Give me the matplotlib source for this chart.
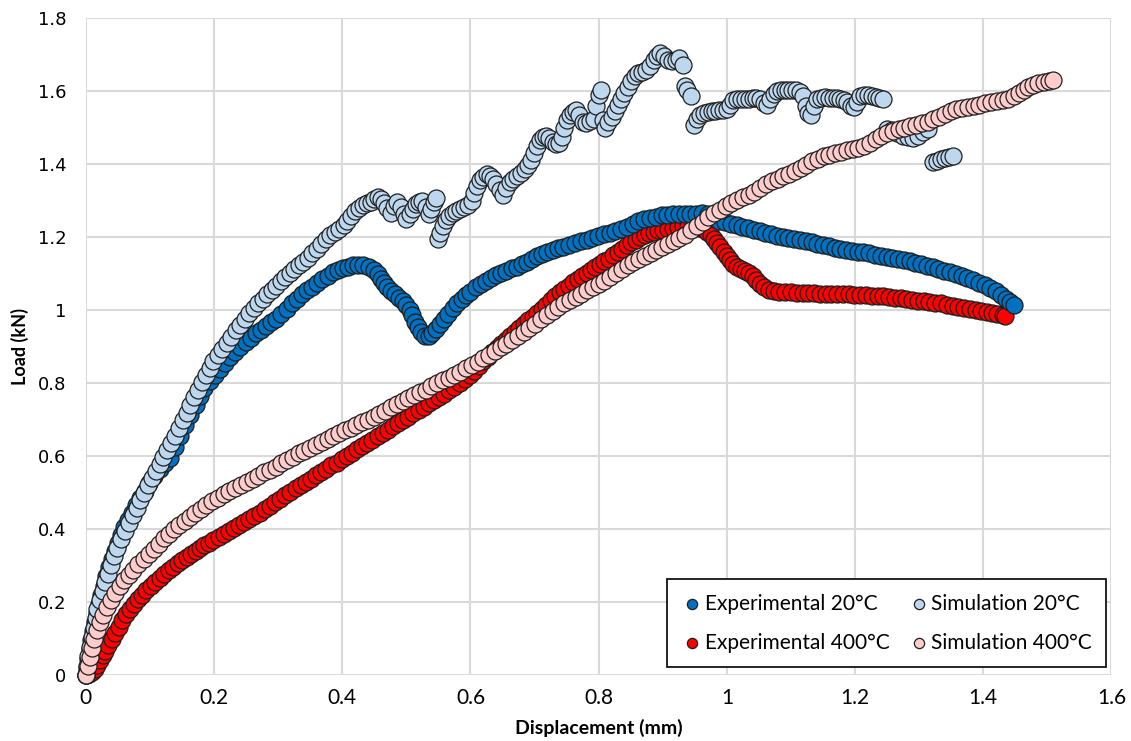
import matplotlib
matplotlib.use("Agg")
import matplotlib.pyplot as plt
from matplotlib import font_manager

# pick a Calibri-like narrow face if present
names = {f.name for f in font_manager.fontManager.ttflist}
narrow = 'Liberation Sans Narrow' if 'Liberation Sans Narrow' in names else 'Lato'

# --- axis ticks ---
x_ticks = [0, 0.2, 0.4, 0.6, 0.8, 1.0, 1.2, 1.4, 1.6]
x_labels = ['0', '0.2', '0.4', '0.6', '0.8', '1', '1.2', '1.4', '1.6']
y_ticks = [0, 0.2, 0.4, 0.6, 0.8, 1.0, 1.2, 1.4, 1.6, 1.8]
y_labels = ['0', '0.2', '0.4', '0.6', '0.8', '1', '1.2', '1.4', '1.6', '1.8']

# --- data (displacement mm, load kN) ---
exp20 = [
    (0.000, 0.000), (0.002, 0.020), (0.004, 0.045), (0.006, 0.070), (0.008, 0.095), (0.011, 0.120),
    (0.014, 0.145), (0.017, 0.170), (0.020, 0.195), (0.024, 0.220), (0.028, 0.245), (0.032, 0.270),
    (0.036, 0.295), (0.040, 0.318), (0.045, 0.340), (0.050, 0.362), (0.055, 0.384), (0.060, 0.405),
    (0.066, 0.425), (0.072, 0.445), (0.078, 0.465), (0.085, 0.485), (0.092, 0.505), (0.099, 0.525),
    (0.107, 0.545), (0.115, 0.565), (0.123, 0.580), (0.131, 0.595), (0.139, 0.625), (0.147, 0.655),
    (0.155, 0.685), (0.163, 0.712), (0.171, 0.740), (0.178, 0.765), (0.185, 0.787), (0.193, 0.805),
    (0.201, 0.822), (0.209, 0.838), (0.217, 0.854), (0.225, 0.870), (0.233, 0.884), (0.241, 0.899),
    (0.249, 0.912), (0.257, 0.924), (0.265, 0.936), (0.273, 0.946), (0.281, 0.956), (0.289, 0.966),
    (0.297, 0.976), (0.305, 0.990), (0.313, 1.004), (0.321, 1.018), (0.329, 1.031), (0.337, 1.043),
    (0.345, 1.054), (0.353, 1.064), (0.361, 1.074), (0.369, 1.084), (0.377, 1.094), (0.385, 1.103),
    (0.393, 1.110), (0.401, 1.115), (0.409, 1.119), (0.417, 1.122), (0.425, 1.123), (0.433, 1.122),
    (0.441, 1.118), (0.449, 1.110), (0.455, 1.098), (0.460, 1.085), (0.465, 1.074), (0.470, 1.063),
    (0.476, 1.052), (0.482, 1.044), (0.488, 1.034), (0.494, 1.024), (0.500, 1.014), (0.505, 1.000),
    (0.509, 0.985), (0.513, 0.968), (0.518, 0.953), (0.523, 0.940), (0.529, 0.928), (0.535, 0.930),
    (0.540, 0.938), (0.546, 0.948), (0.552, 0.962), (0.558, 0.976), (0.565, 0.990), (0.572, 1.005),
    (0.579, 1.020), (0.586, 1.030), (0.593, 1.040), (0.600, 1.050), (0.608, 1.062), (0.616, 1.072),
    (0.624, 1.080), (0.632, 1.088), (0.640, 1.095), (0.648, 1.102), (0.656, 1.108), (0.664, 1.114),
    (0.672, 1.119), (0.680, 1.125), (0.688, 1.132), (0.696, 1.140), (0.704, 1.147), (0.712, 1.154),
    (0.720, 1.160), (0.728, 1.165), (0.736, 1.170), (0.745, 1.173), (0.754, 1.178), (0.763, 1.183),
    (0.772, 1.188), (0.781, 1.193), (0.790, 1.198), (0.799, 1.203), (0.808, 1.208), (0.817, 1.212),
    (0.826, 1.217), (0.835, 1.222), (0.844, 1.228), (0.853, 1.236), (0.862, 1.243), (0.871, 1.248),
    (0.880, 1.252), (0.889, 1.256), (0.898, 1.259), (0.907, 1.261), (0.916, 1.263), (0.925, 1.264),
    (0.934, 1.263), (0.943, 1.262), (0.952, 1.262), (0.961, 1.265), (0.970, 1.262), (0.979, 1.252),
    (0.988, 1.244), (0.997, 1.240), (1.006, 1.236), (1.015, 1.232), (1.024, 1.228), (1.033, 1.224),
    (1.042, 1.220), (1.051, 1.216), (1.060, 1.212), (1.069, 1.208), (1.078, 1.204), (1.087, 1.200),
    (1.096, 1.197), (1.105, 1.194), (1.114, 1.191), (1.123, 1.188), (1.132, 1.185), (1.141, 1.181),
    (1.150, 1.177), (1.159, 1.174), (1.168, 1.171), (1.177, 1.168), (1.186, 1.165), (1.195, 1.163),
    (1.204, 1.160), (1.213, 1.158), (1.222, 1.155), (1.231, 1.152), (1.240, 1.149), (1.249, 1.146),
    (1.258, 1.143), (1.267, 1.140), (1.276, 1.137), (1.285, 1.133), (1.294, 1.129), (1.303, 1.125),
    (1.312, 1.121), (1.321, 1.117), (1.330, 1.113), (1.339, 1.108), (1.348, 1.103), (1.357, 1.098),
    (1.366, 1.093), (1.375, 1.087), (1.384, 1.081), (1.393, 1.075), (1.402, 1.068), (1.411, 1.060),
    (1.420, 1.051), (1.428, 1.041), (1.435, 1.031), (1.441, 1.022), (1.448, 1.014),
]

exp400 = [
    (0.000, 0.000), (0.005, 0.004), (0.010, 0.009), (0.014, 0.016), (0.018, 0.028), (0.022, 0.041),
    (0.026, 0.054), (0.030, 0.067), (0.035, 0.083), (0.040, 0.099), (0.045, 0.115), (0.051, 0.132),
    (0.057, 0.150), (0.063, 0.166), (0.069, 0.180), (0.075, 0.194), (0.081, 0.207), (0.087, 0.220),
    (0.094, 0.232), (0.101, 0.244), (0.108, 0.256), (0.115, 0.267), (0.122, 0.278), (0.129, 0.288),
    (0.136, 0.297), (0.143, 0.306), (0.150, 0.315), (0.157, 0.323), (0.164, 0.331), (0.171, 0.339),
    (0.178, 0.347), (0.185, 0.355), (0.192, 0.362), (0.199, 0.370), (0.207, 0.378), (0.215, 0.386),
    (0.223, 0.395), (0.231, 0.403), (0.239, 0.411), (0.247, 0.419), (0.255, 0.427), (0.263, 0.436),
    (0.271, 0.445), (0.279, 0.455), (0.287, 0.464), (0.295, 0.473), (0.303, 0.482), (0.311, 0.492),
    (0.319, 0.501), (0.327, 0.511), (0.335, 0.520), (0.343, 0.529), (0.351, 0.538), (0.359, 0.547),
    (0.367, 0.556), (0.375, 0.565), (0.383, 0.574), (0.391, 0.582), (0.399, 0.591), (0.407, 0.600),
    (0.415, 0.609), (0.423, 0.618), (0.431, 0.627), (0.439, 0.636), (0.447, 0.645), (0.455, 0.654),
    (0.463, 0.663), (0.471, 0.672), (0.479, 0.681), (0.487, 0.690), (0.495, 0.699), (0.503, 0.708),
    (0.511, 0.717), (0.519, 0.726), (0.527, 0.735), (0.535, 0.744), (0.543, 0.753), (0.551, 0.762),
    (0.559, 0.771), (0.567, 0.780), (0.575, 0.790), (0.583, 0.800), (0.591, 0.810), (0.599, 0.821),
    (0.606, 0.833), (0.613, 0.846), (0.620, 0.859), (0.627, 0.872), (0.634, 0.884), (0.641, 0.896),
    (0.648, 0.907), (0.655, 0.918), (0.662, 0.929), (0.669, 0.940), (0.676, 0.951), (0.683, 0.962),
    (0.690, 0.972), (0.697, 0.982), (0.704, 0.993), (0.711, 1.004), (0.718, 1.015), (0.725, 1.027),
    (0.732, 1.038), (0.739, 1.048), (0.746, 1.058), (0.753, 1.067), (0.760, 1.076), (0.767, 1.085),
    (0.774, 1.093), (0.781, 1.101), (0.788, 1.109), (0.795, 1.117), (0.802, 1.125), (0.809, 1.133),
    (0.816, 1.141), (0.823, 1.150), (0.830, 1.159), (0.837, 1.168), (0.844, 1.177), (0.851, 1.185),
    (0.858, 1.193), (0.865, 1.200), (0.872, 1.206), (0.879, 1.211), (0.886, 1.215), (0.893, 1.218),
    (0.900, 1.220), (0.908, 1.222), (0.916, 1.225), (0.924, 1.228), (0.932, 1.230), (0.940, 1.230),
    (0.948, 1.229), (0.956, 1.226), (0.963, 1.222), (0.969, 1.215), (0.975, 1.205), (0.980, 1.194),
    (0.985, 1.183), (0.990, 1.172), (0.995, 1.160), (1.000, 1.148), (1.005, 1.137), (1.010, 1.127),
    (1.016, 1.119), (1.022, 1.113), (1.028, 1.108), (1.034, 1.102), (1.040, 1.093), (1.046, 1.082),
    (1.052, 1.071), (1.058, 1.062), (1.065, 1.055), (1.073, 1.051), (1.082, 1.049), (1.091, 1.048),
    (1.100, 1.048), (1.109, 1.047), (1.118, 1.047), (1.127, 1.046), (1.136, 1.046), (1.145, 1.045),
    (1.154, 1.045), (1.163, 1.044), (1.172, 1.044), (1.181, 1.043), (1.190, 1.043), (1.199, 1.042),
    (1.208, 1.041), (1.217, 1.040), (1.226, 1.039), (1.235, 1.038), (1.244, 1.037), (1.253, 1.036),
    (1.262, 1.034), (1.271, 1.032), (1.280, 1.030), (1.289, 1.028), (1.298, 1.026), (1.307, 1.024),
    (1.316, 1.022), (1.325, 1.020), (1.334, 1.018), (1.343, 1.015), (1.352, 1.012), (1.361, 1.009),
    (1.370, 1.006), (1.379, 1.003), (1.388, 1.000), (1.397, 0.997), (1.406, 0.994), (1.414, 0.991),
    (1.422, 0.988), (1.430, 0.985), (1.434, 0.984),
]

sim20 = [
    (0.000, 0.000), (0.002, 0.026), (0.004, 0.052), (0.006, 0.078), (0.009, 0.104), (0.012, 0.130),
    (0.015, 0.156), (0.018, 0.181), (0.022, 0.206), (0.026, 0.230), (0.030, 0.254), (0.034, 0.278),
    (0.039, 0.302), (0.044, 0.326), (0.049, 0.349), (0.055, 0.372), (0.061, 0.394), (0.067, 0.416),
    (0.073, 0.437), (0.079, 0.458), (0.085, 0.479), (0.091, 0.500), (0.097, 0.520), (0.103, 0.540),
    (0.109, 0.559), (0.115, 0.578), (0.121, 0.597), (0.127, 0.616), (0.133, 0.636), (0.139, 0.656),
    (0.145, 0.677), (0.151, 0.698), (0.157, 0.719), (0.163, 0.740), (0.169, 0.761), (0.175, 0.782),
    (0.181, 0.802), (0.187, 0.822), (0.193, 0.841), (0.199, 0.859), (0.206, 0.876), (0.213, 0.893),
    (0.220, 0.910), (0.227, 0.927), (0.234, 0.944), (0.241, 0.960), (0.248, 0.976), (0.255, 0.991),
    (0.262, 1.005), (0.269, 1.018), (0.276, 1.031), (0.283, 1.043), (0.290, 1.055), (0.297, 1.067),
    (0.304, 1.079), (0.311, 1.091), (0.318, 1.102), (0.325, 1.112), (0.332, 1.122), (0.339, 1.132),
    (0.346, 1.143), (0.353, 1.155), (0.360, 1.168), (0.367, 1.181), (0.374, 1.194), (0.381, 1.205),
    (0.388, 1.214), (0.395, 1.222), (0.402, 1.232), (0.408, 1.245), (0.414, 1.258), (0.420, 1.270),
    (0.426, 1.280), (0.432, 1.288), (0.438, 1.293), (0.444, 1.297), (0.450, 1.303), (0.455, 1.310),
    (0.460, 1.305), (0.465, 1.292), (0.470, 1.280), (0.476, 1.266), (0.481, 1.286), (0.486, 1.295),
    (0.491, 1.282), (0.496, 1.262), (0.500, 1.248), (0.505, 1.262), (0.510, 1.278), (0.515, 1.290),
    (0.520, 1.296), (0.525, 1.300), (0.530, 1.282), (0.535, 1.262), (0.539, 1.278), (0.543, 1.296),
    (0.546, 1.306),
    (0.549, 1.195), (0.553, 1.212), (0.557, 1.230), (0.561, 1.246), (0.566, 1.258), (0.572, 1.266),
    (0.578, 1.272), (0.584, 1.278), (0.590, 1.283), (0.596, 1.288), (0.602, 1.300), (0.606, 1.320),
    (0.610, 1.340), (0.615, 1.355), (0.620, 1.365), (0.625, 1.372), (0.630, 1.368), (0.635, 1.358),
    (0.640, 1.345), (0.646, 1.330), (0.651, 1.315), (0.656, 1.335), (0.661, 1.350), (0.667, 1.360),
    (0.673, 1.368), (0.679, 1.376), (0.685, 1.385), (0.690, 1.398), (0.695, 1.412), (0.699, 1.430),
    (0.703, 1.450), (0.708, 1.465), (0.713, 1.473), (0.718, 1.476), (0.723, 1.470), (0.728, 1.460),
    (0.733, 1.456), (0.738, 1.458), (0.742, 1.475), (0.746, 1.500), (0.750, 1.520), (0.755, 1.533),
    (0.760, 1.542), (0.765, 1.548), (0.770, 1.535), (0.775, 1.515), (0.780, 1.512), (0.786, 1.518),
    (0.792, 1.522), (0.796, 1.560), (0.800, 1.590), (0.803, 1.603), (0.806, 1.520), (0.810, 1.500),
    (0.815, 1.515), (0.820, 1.530), (0.825, 1.545), (0.830, 1.562), (0.835, 1.578), (0.840, 1.595),
    (0.845, 1.612), (0.850, 1.628), (0.856, 1.640), (0.862, 1.648), (0.868, 1.652), (0.874, 1.658),
    (0.880, 1.668), (0.886, 1.685), (0.891, 1.697), (0.896, 1.703), (0.902, 1.695), (0.908, 1.686),
    (0.914, 1.683), (0.920, 1.686), (0.926, 1.690), (0.931, 1.672), (0.935, 1.615), (0.938, 1.602),
    (0.944, 1.585),
    (0.949, 1.508), (0.953, 1.522), (0.958, 1.535), (0.964, 1.540), (0.970, 1.543), (0.976, 1.545),
    (0.982, 1.546), (0.988, 1.548), (0.994, 1.549), (1.000, 1.552), (1.005, 1.562), (1.010, 1.575),
    (1.016, 1.578), (1.022, 1.578), (1.028, 1.579), (1.034, 1.579), (1.040, 1.580), (1.046, 1.580),
    (1.052, 1.578), (1.058, 1.568), (1.063, 1.562), (1.068, 1.578), (1.073, 1.592), (1.078, 1.600),
    (1.084, 1.602), (1.090, 1.603), (1.096, 1.603), (1.102, 1.603), (1.108, 1.602), (1.114, 1.598),
    (1.119, 1.585), (1.123, 1.560), (1.127, 1.540), (1.131, 1.534), (1.136, 1.560), (1.141, 1.578),
    (1.147, 1.582), (1.153, 1.583), (1.159, 1.582), (1.165, 1.581), (1.171, 1.580), (1.177, 1.578),
    (1.183, 1.575), (1.188, 1.570), (1.193, 1.558), (1.198, 1.555), (1.203, 1.570), (1.208, 1.585),
    (1.214, 1.590), (1.220, 1.590), (1.226, 1.587), (1.232, 1.583), (1.238, 1.580), (1.243, 1.578),
    (1.250, 1.495), (1.258, 1.492), (1.266, 1.485), (1.274, 1.478), (1.282, 1.474), (1.290, 1.472),
    (1.298, 1.478), (1.306, 1.488), (1.314, 1.495),
    (1.322, 1.405), (1.328, 1.409), (1.334, 1.413), (1.340, 1.417), (1.346, 1.420), (1.352, 1.423),
]

sim400 = [
    (0.000, 0.000), (0.003, 0.025), (0.006, 0.050), (0.009, 0.075), (0.013, 0.100), (0.017, 0.122),
    (0.022, 0.144), (0.027, 0.165), (0.033, 0.186), (0.039, 0.206), (0.046, 0.225), (0.053, 0.243),
    (0.060, 0.259), (0.067, 0.274), (0.074, 0.289), (0.082, 0.304), (0.090, 0.318), (0.098, 0.332),
    (0.106, 0.346), (0.114, 0.360), (0.122, 0.374), (0.130, 0.387), (0.138, 0.399), (0.146, 0.410),
    (0.154, 0.421), (0.162, 0.432), (0.170, 0.443), (0.179, 0.455), (0.188, 0.466), (0.197, 0.476),
    (0.206, 0.486), (0.215, 0.495), (0.224, 0.504), (0.233, 0.512), (0.242, 0.520), (0.251, 0.528),
    (0.260, 0.537), (0.269, 0.546), (0.278, 0.555), (0.287, 0.563), (0.296, 0.571), (0.305, 0.580),
    (0.314, 0.589), (0.323, 0.598), (0.332, 0.607), (0.341, 0.615), (0.350, 0.623), (0.359, 0.631),
    (0.368, 0.639), (0.377, 0.647), (0.386, 0.655), (0.395, 0.663), (0.404, 0.670), (0.413, 0.677),
    (0.422, 0.684), (0.431, 0.692), (0.440, 0.700), (0.449, 0.708), (0.458, 0.716), (0.467, 0.724),
    (0.476, 0.733), (0.485, 0.742), (0.494, 0.750), (0.503, 0.758), (0.512, 0.766), (0.521, 0.774),
    (0.530, 0.782), (0.539, 0.791), (0.548, 0.799), (0.557, 0.807), (0.566, 0.815), (0.575, 0.823),
    (0.584, 0.831), (0.593, 0.840), (0.602, 0.849), (0.611, 0.858), (0.620, 0.868), (0.629, 0.878),
    (0.638, 0.888), (0.647, 0.898), (0.656, 0.908), (0.665, 0.918), (0.674, 0.929), (0.683, 0.940),
    (0.692, 0.952), (0.701, 0.963), (0.710, 0.975), (0.719, 0.987), (0.728, 0.998), (0.737, 1.008),
    (0.746, 1.018), (0.755, 1.027), (0.764, 1.036), (0.773, 1.045), (0.782, 1.054), (0.791, 1.063),
    (0.800, 1.071), (0.809, 1.080), (0.818, 1.090), (0.827, 1.101), (0.836, 1.112), (0.845, 1.122),
    (0.854, 1.131), (0.863, 1.140), (0.872, 1.148), (0.881, 1.156), (0.890, 1.164), (0.899, 1.172),
    (0.908, 1.180), (0.917, 1.188), (0.926, 1.196), (0.935, 1.206), (0.944, 1.218), (0.953, 1.230),
    (0.962, 1.242), (0.971, 1.254), (0.980, 1.265), (0.989, 1.275), (0.998, 1.285), (1.007, 1.294),
    (1.016, 1.302), (1.025, 1.309), (1.034, 1.316), (1.043, 1.324), (1.052, 1.335), (1.061, 1.345),
    (1.070, 1.353), (1.079, 1.360), (1.088, 1.367), (1.097, 1.373), (1.106, 1.380), (1.115, 1.388),
    (1.124, 1.398), (1.133, 1.408), (1.142, 1.415), (1.151, 1.421), (1.160, 1.426), (1.169, 1.430),
    (1.178, 1.434), (1.187, 1.437), (1.196, 1.440), (1.205, 1.444), (1.214, 1.450), (1.223, 1.458),
    (1.232, 1.468), (1.241, 1.477), (1.250, 1.484), (1.259, 1.490), (1.268, 1.495), (1.277, 1.499),
    (1.286, 1.503), (1.295, 1.507), (1.304, 1.511), (1.313, 1.516), (1.322, 1.522), (1.331, 1.530),
    (1.340, 1.538), (1.349, 1.545), (1.358, 1.550), (1.367, 1.554), (1.376, 1.557), (1.385, 1.560),
    (1.394, 1.563), (1.403, 1.566), (1.412, 1.569), (1.421, 1.572), (1.430, 1.575), (1.439, 1.579),
    (1.448, 1.585), (1.456, 1.594), (1.463, 1.603), (1.470, 1.611), (1.478, 1.617), (1.486, 1.621),
    (1.494, 1.624), (1.502, 1.627), (1.509, 1.629),
]

fig = plt.figure(figsize=(11.31, 7.41), dpi=100)
ax = fig.add_axes([85.9 / 1131, 66 / 741, 1025.6 / 1131, 657 / 741])

edge = '#1e1e1e'
size = 150

def draw(series, color, label):
    xs = [p[0] for p in series]
    ys = [p[1] for p in series]
    return ax.scatter(xs, ys, s=size, c=color, edgecolors=edge, linewidths=0.9,
                      label=label, zorder=3, clip_on=False)

h_e400 = draw(exp400, '#FF0000', 'Experimental 400°C')
h_e20 = draw(exp20, '#0070C0', 'Experimental 20°C')
h_s20 = draw(sim20, '#BDD7EE', 'Simulation 20°C')
h_s400 = draw(sim400, '#FFCCCC', 'Simulation 400°C')

ax.set_xlim(0, 1.6)
ax.set_ylim(0, 1.8)
ax.set_xticks(x_ticks, x_labels, fontsize=15, family=narrow)
ax.set_yticks(y_ticks, y_labels, fontsize=13, family='DejaVu Sans')

ax.grid(True, color='#d9d9d9', linewidth=1.5, zorder=0)
ax.set_axisbelow(True)
for s in ax.spines.values():
    s.set_visible(False)
ax.tick_params(length=0)
ax.tick_params(axis='x', pad=9)
ax.tick_params(axis='y', pad=14)

ax.set_xlabel('Displacement (mm)', fontsize=14, fontweight='bold', family=narrow, labelpad=8)
ax.set_ylabel('Load (kN)', fontsize=13, fontweight='bold', family=narrow, labelpad=6)

leg = ax.legend(handles=[h_e20, h_e400, h_s20, h_s400], ncol=2, loc='lower right',
                bbox_to_anchor=(0.995, 0.012), borderaxespad=0, fancybox=False,
                framealpha=1, edgecolor='black', prop={'family': narrow, 'size': 15},
                markerscale=0.6, handletextpad=0.1, columnspacing=0.9,
                labelspacing=0.9, borderpad=0.7, handlelength=1.0)
leg.get_frame().set_linewidth(1.2)
leg.set_zorder(5)

fig.savefig('out.png', dpi=100)
